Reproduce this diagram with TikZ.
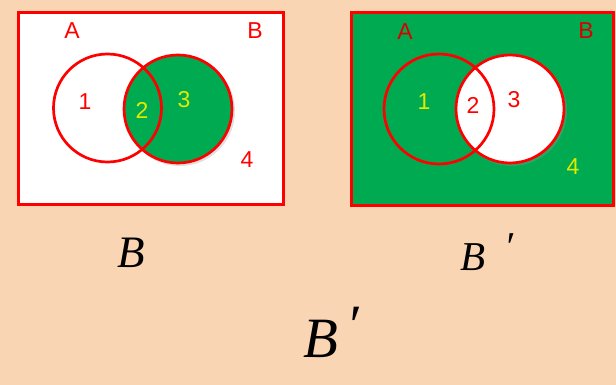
\documentclass[tikz,border=0pt]{standalone}
\usepackage{fontspec}
\setmainfont{Liberation Serif}
\newfontfamily\lab{Liberation Sans}
\definecolor{peach}{RGB}{250,213,180}
\definecolor{vgreen}{RGB}{0,170,80}
\definecolor{vred}{RGB}{255,0,0}
\definecolor{vyel}{RGB}{225,235,0}
\begin{document}
\begin{tikzpicture}[x=1pt,y=-1pt,
  frame/.style={draw=vred,line width=3pt},
  ring/.style={draw=vred,line width=2.7pt},
  lbl/.style={font=\lab\fontsize{23}{23}\selectfont,inner sep=0pt},
  captext/.style={font=\itshape\fontsize{45}{45}\selectfont,inner sep=0pt}]
\useasboundingbox[fill=peach] (0,0) rectangle (616,385);
% left panel
\draw[frame,fill=white] (18,13) rectangle (283,204);
\fill[black!40,opacity=0.3] (180,111) circle (55);
\draw[ring,fill=vgreen] (178,109) circle (54);
\draw[ring] (107.5,108) circle (54);
\node[lbl,text=vred] (la) at (72,31) {A};
\node[lbl,text=vred] (lb) at (255,31) {B};
\node[lbl,text=vred] (l1) at (85,102) {1};
\node[lbl,text=vyel] (l2) at (142,110) {2};
\node[lbl,text=vyel] (l3) at (184,100) {3};
\node[lbl,text=vred] (l4) at (247,160) {4};
% right panel
\draw[frame,fill=vgreen] (351,13) rectangle (613,205);
\fill[black!40,opacity=0.3] (512,111) circle (55);
\draw[ring,fill=white] (510,109) circle (54);
\draw[ring] (439,109) circle (55);
\node[lbl,text=vred!85!black] (ra) at (405,32) {A};
\node[lbl,text=vred!85!black] (rb) at (586,31) {B};
\node[lbl,text=vyel] (r1) at (424,102) {1};
\node[lbl,text=vred] (r2) at (473,105) {2};
\node[lbl,text=vred] (r3) at (514,100) {3};
\node[lbl,text=vyel] (r4) at (573,167) {4};
% captions
\node[captext] (cb) at (131,253) {B};
\node[captext,font=\itshape\fontsize{41}{41}\selectfont] (cbr) at (473,257) {B};
\node[captext,font=\itshape\fontsize{41}{41}\selectfont] (cbrp) at (509,247) {\char"2032};
\node[captext,font=\itshape\fontsize{57}{57}\selectfont] (cbig) at (321,339) {B};
\node[captext,font=\itshape\fontsize{57}{57}\selectfont] (cbigp) at (353,326) {\char"2032};
\end{tikzpicture}
\end{document}
